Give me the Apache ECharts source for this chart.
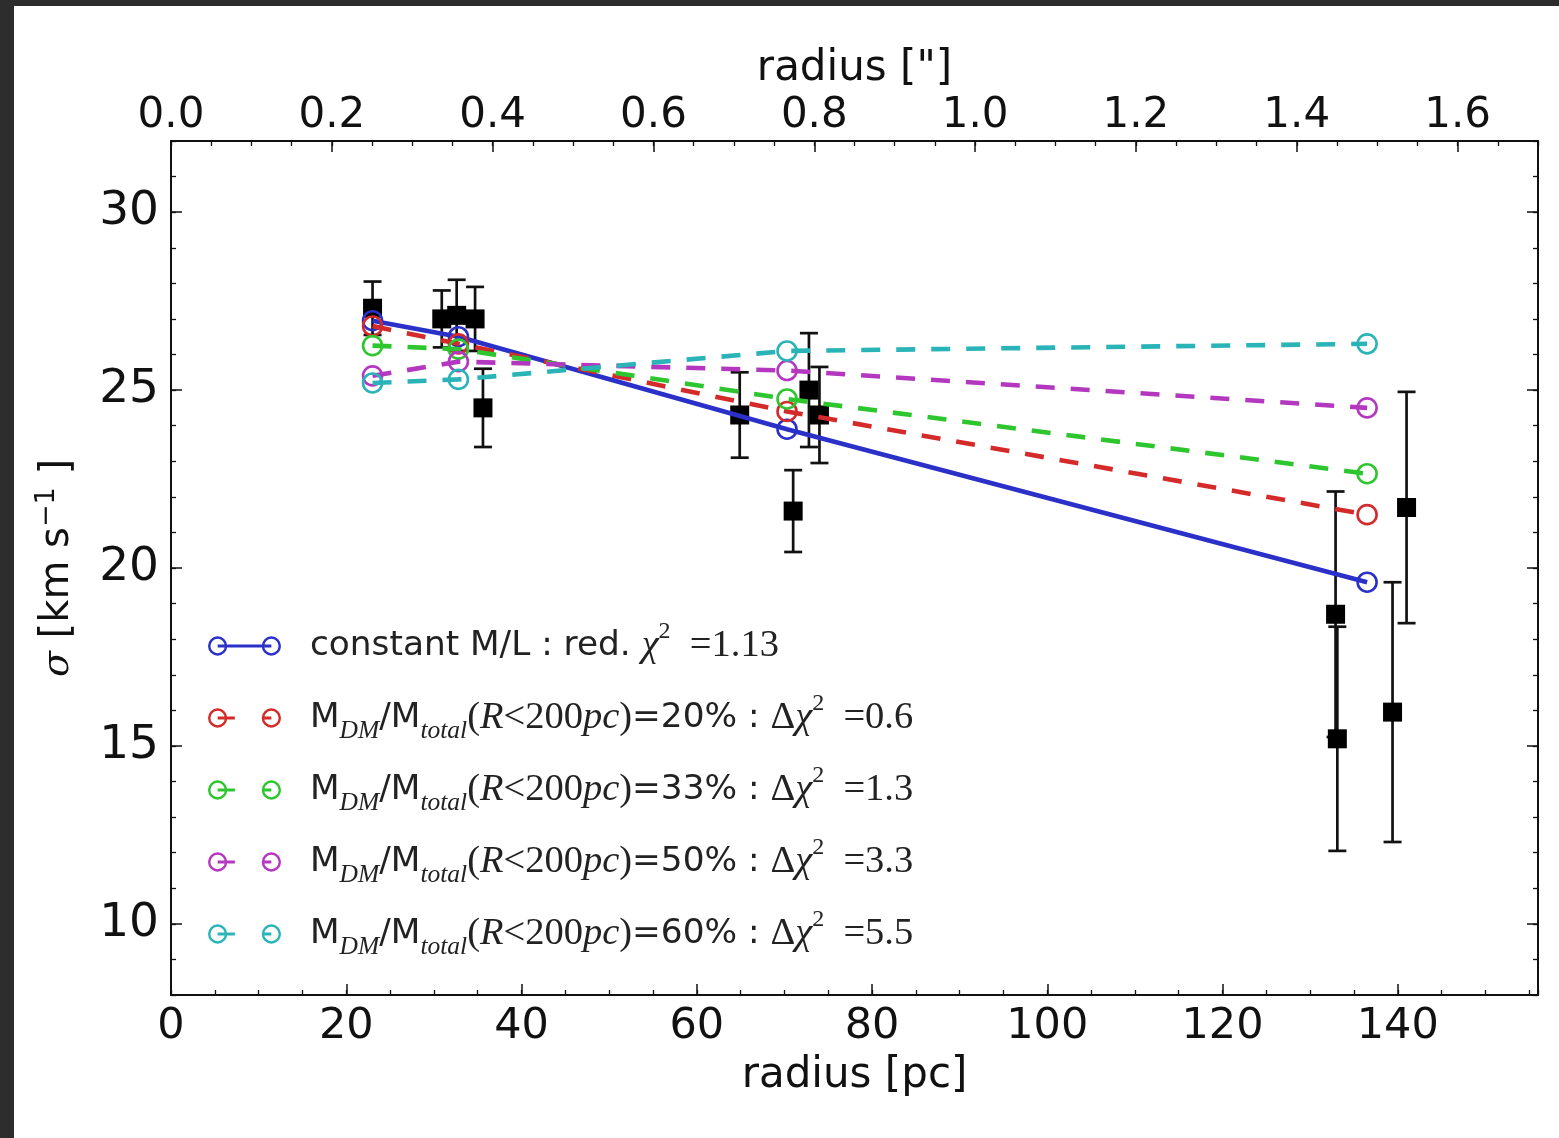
<!DOCTYPE html>
<html>
<head>
<meta charset="utf-8">
<script src="https://cdn.jsdelivr.net/npm/echarts@6/dist/echarts.min.js"></script>
<style>
  html, body { margin: 0; padding: 0; background: #2d2d2d; width: 1559px; height: 1138px; overflow: hidden; }
  #chart { position: absolute; left: 14px; top: 6px; width: 1545px; height: 1132px; background: #ffffff; }
</style>
</head>
<body>
<div id="chart"></div>
<script>
// ---------------- DATA ----------------
// observed dispersion profile
const obsRadius = [23.0, 30.9, 32.6, 34.7, 35.6, 64.9, 71.0, 72.8, 74.0, 132.9, 133.1, 139.4, 141.0];
const obsSigma  = [27.3, 27.0, 27.1, 27.0, 24.5, 24.3, 21.6, 25.0, 24.3, 18.7, 15.2, 15.95, 21.7];
const obsError  = [0.75, 0.8, 1.0, 0.9, 1.1, 1.2, 1.15, 1.6, 1.35, 3.45, 3.15, 3.65, 3.25];

// model predictions
const modelRadius = [23.0, 32.8, 70.3, 136.5];
const modelConstML = [26.95, 26.5, 23.9, 19.6];
const modelDM20 = [26.8, 26.3, 24.4, 21.5];
const modelDM33 = [26.25, 26.15, 24.75, 22.65];
const modelDM50 = [25.4, 25.8, 25.55, 24.5];
const modelDM60 = [25.2, 25.3, 26.1, 26.3];

const modelNames = ['constant M/L', 'DM 20%', 'DM 33%', 'DM 50%', 'DM 60%'];
const dmPercent = ['', '20', '33', '50', '60'];
const chiValues = ['1.13', '0.6', '1.3', '3.3', '5.5'];

// axis ticks
const xTicks = [0, 20, 40, 60, 80, 100, 120, 140];
const xTopTicks = [0, 0.2, 0.4, 0.6, 0.8, 1.0, 1.2, 1.4, 1.6];
const yTicks = [10, 15, 20, 25, 30];
const xMin = 0, xMax = 156;
const xTopMax = 1.70;
const yMin = 8, yMax = 32;

// ---------------- STYLE ----------------
const colors = ['#2a30c8', '#d42a2a', '#2ec62e', '#b437c0', '#2ab4b8'];
const ink = '#111111';
const sans = 'DejaVu Sans';
const serif = 'Liberation Serif';

function ring(cx, cy, R, r) {
  return `M${cx - R},${cy} A${R},${R} 0 1,1 ${cx + R},${cy} A${R},${R} 0 1,1 ${cx - R},${cy} Z ` +
         `M${cx - r},${cy} A${r},${r} 0 1,0 ${cx + r},${cy} A${r},${r} 0 1,0 ${cx - r},${cy} Z `;
}
function bar(x1, x2) {
  const y1 = 8.5, y2 = 11.5;
  return `M${x1},${y1} L${x2},${y1} L${x2},${y2} L${x1},${y2} Z `;
}
const R0 = 9.5, r0 = 7.1;
const iconSolid = 'path://' + ring(10, 10, R0, r0) + ring(63, 10, R0, r0) +
  bar(10, 16.9) + bar(19.4, 53.6) + bar(56.1, 63);
const iconDashed = 'path://' + ring(10, 10, R0, r0) + ring(63, 10, R0, r0) +
  bar(10, 16.9) + bar(19.4, 27) + bar(56.1, 63);

const modelSeriesData = [modelConstML, modelDM20, modelDM33, modelDM50, modelDM60];

const chart = echarts.init(document.getElementById('chart'), null, { renderer: 'canvas' });

const modelSeries = modelSeriesData.map((vals, k) => ({
  name: modelNames[k],
  type: 'line',
  xAxisIndex: 0,
  yAxisIndex: 0,
  data: modelRadius.map((r, i) => [r, vals[i]]),
  symbol: 'circle',
  symbolSize: 19,
  showSymbol: true,
  itemStyle: { color: 'rgba(255,255,255,0)', borderColor: colors[k], borderWidth: 2.6 },
  lineStyle: { color: colors[k], width: 4.6, type: k === 0 ? 'solid' : [19, 16] },
  emphasis: { disabled: true },
  z: 5 + k,
  animation: false
}));

const errData = obsRadius.map((r, i) => [r, obsSigma[i] - obsError[i], obsSigma[i] + obsError[i]]);

const option = {
  backgroundColor: '#ffffff',
  animation: false,
  grid: { left: 157, right: 21, top: 135, bottom: 143, show: false },
  legend: {
    show: true,
    orient: 'vertical',
    left: 189,
    top: 609,
    itemWidth: 73,
    itemHeight: 20,
    itemGap: 20,
    selectedMode: false,
    data: modelNames.map((n, k) => ({
      name: n,
      icon: k === 0 ? iconSolid : iconDashed,
      itemStyle: { color: colors[k], borderWidth: 0 }
    })),
    formatter: function (name) {
      const i = modelNames.indexOf(name);
      if (i === 0) {
        return `{s|constant M/L : red. }{mi|χ}{sup|2}{mn|  =${chiValues[0]}}{sub| }`;
      }
      return `{s|M}{sub|DM}{s|/M}{sub|total}{mn|(}{mi|R}{mn|<200}{mi|pc}{mn|)}{s|=${dmPercent[i]}% : }{mn|Δ}{mi|χ}{sup|2}{mn|  =${chiValues[i]}}`;
    },
    textStyle: {
      padding: [0, 0, 0, 24],
      color: ink,
      rich: {
        s: { fontFamily: sans, fontSize: 34.3, color: '#222', lineHeight: 52, verticalAlign: 'middle' },
        mi: { fontFamily: serif, fontStyle: 'italic', fontSize: 38.5, color: '#222', lineHeight: 52, verticalAlign: 'middle' },
        mn: { fontFamily: serif, fontSize: 38.5, color: '#222', lineHeight: 52, verticalAlign: 'middle' },
        sub: { fontFamily: serif, fontStyle: 'italic', fontSize: 25.5, color: '#222', lineHeight: 24, verticalAlign: 'bottom' },
        sup: { fontFamily: serif, fontSize: 24, color: '#222', lineHeight: 26, verticalAlign: 'top' }
      }
    }
  },
  xAxis: [
    {
      type: 'value', position: 'bottom', min: xMin, max: xMax,
      axisLine: { show: true, onZero: false, lineStyle: { color: ink, width: 2 } },
      axisTick: { show: true, inside: true, length: 11, customValues: xTicks, lineStyle: { color: ink, width: 1.5 } },
      axisLabel: { show: true, customValues: xTicks, fontFamily: sans, fontSize: 43, color: ink, margin: 10 },
      splitLine: { show: false },
      name: 'radius [pc]', nameLocation: 'middle', nameGap: 60,
      nameTextStyle: { fontFamily: sans, fontSize: 42, color: ink }
    },
    {
      type: 'value', position: 'bottom', min: xMin, max: xMax, interval: 5,
      axisLine: { show: false, onZero: false },
      axisTick: { show: true, inside: true, length: 5, lineStyle: { color: ink, width: 1.3 } },
      axisLabel: { show: false }, splitLine: { show: false }
    },
    {
      type: 'value', position: 'top', min: 0, max: xTopMax,
      axisLine: { show: true, onZero: false, lineStyle: { color: ink, width: 2 } },
      axisTick: { show: true, inside: true, length: 11, customValues: xTopTicks, lineStyle: { color: ink, width: 1.5 } },
      axisLabel: { show: true, customValues: xTopTicks, fontFamily: sans, fontSize: 42, color: ink, margin: 4,
        formatter: v => Number(v).toFixed(1) },
      splitLine: { show: false },
      name: 'radius ["]', nameLocation: 'middle', nameGap: 45,
      nameTextStyle: { fontFamily: sans, fontSize: 42, color: ink }
    },
    {
      type: 'value', position: 'top', min: 0, max: xTopMax, interval: 0.05,
      axisLine: { show: false, onZero: false },
      axisTick: { show: true, inside: true, length: 5, lineStyle: { color: ink, width: 1.3 } },
      axisLabel: { show: false }, splitLine: { show: false }
    }
  ],
  yAxis: [
    {
      type: 'value', position: 'left', min: yMin, max: yMax,
      axisLine: { show: true, onZero: false, lineStyle: { color: ink, width: 2 } },
      axisTick: { show: true, inside: true, length: 11, customValues: yTicks, lineStyle: { color: ink, width: 1.5 } },
      axisLabel: { show: true, customValues: yTicks, fontFamily: sans, fontSize: 47, color: ink, margin: 12 },
      splitLine: { show: false },
      name: '{i|σ}{n| [km s}{sup|−1}{n| ]}', nameLocation: 'middle', nameGap: 88, nameRotate: 90,
      nameTextStyle: {
        color: ink,
        rich: {
          i: { fontFamily: 'DejaVu Serif', fontStyle: 'italic', fontSize: 38, color: ink, lineHeight: 50, verticalAlign: 'middle' },
          n: { fontFamily: sans, fontSize: 40, color: ink, lineHeight: 50, verticalAlign: 'middle' },
          sup: { fontFamily: sans, fontSize: 27, color: ink, lineHeight: 28, verticalAlign: 'top' }
        }
      }
    },
    {
      type: 'value', position: 'left', min: yMin, max: yMax, interval: 1,
      axisLine: { show: false, onZero: false },
      axisTick: { show: true, inside: true, length: 5, lineStyle: { color: ink, width: 1.3 } },
      axisLabel: { show: false }, splitLine: { show: false }
    },
    {
      type: 'value', position: 'right', min: yMin, max: yMax,
      axisLine: { show: true, onZero: false, lineStyle: { color: ink, width: 2 } },
      axisTick: { show: true, inside: true, length: 11, customValues: yTicks, lineStyle: { color: ink, width: 1.5 } },
      axisLabel: { show: false }, splitLine: { show: false }
    },
    {
      type: 'value', position: 'right', min: yMin, max: yMax, interval: 1,
      axisLine: { show: false, onZero: false },
      axisTick: { show: true, inside: true, length: 5, lineStyle: { color: ink, width: 1.3 } },
      axisLabel: { show: false }, splitLine: { show: false }
    }
  ],
  series: [
    {
      name: 'errors',
      type: 'custom',
      xAxisIndex: 0, yAxisIndex: 0,
      data: errData,
      encode: { x: 0, y: [1, 2] },
      z: 2,
      renderItem: function (params, api) {
        const x = api.value(0);
        const lo = api.coord([x, api.value(1)]);
        const hi = api.coord([x, api.value(2)]);
        const hw = 9;
        const st = { stroke: '#111111', lineWidth: 2.7 };
        return {
          type: 'group',
          children: [
            { type: 'line', shape: { x1: lo[0], y1: lo[1], x2: hi[0], y2: hi[1] }, style: st },
            { type: 'line', shape: { x1: lo[0] - hw, y1: lo[1], x2: lo[0] + hw, y2: lo[1] }, style: st },
            { type: 'line', shape: { x1: hi[0] - hw, y1: hi[1], x2: hi[0] + hw, y2: hi[1] }, style: st }
          ]
        };
      }
    },
    {
      name: 'observed',
      type: 'scatter',
      xAxisIndex: 0, yAxisIndex: 0,
      data: obsRadius.map((r, i) => [r, obsSigma[i]]),
      symbol: 'rect',
      symbolSize: 19,
      itemStyle: { color: '#000000', opacity: 1 },
      z: 3
    }
  ].concat(modelSeries)
};

chart.setOption(option);
</script>
</body>
</html>
